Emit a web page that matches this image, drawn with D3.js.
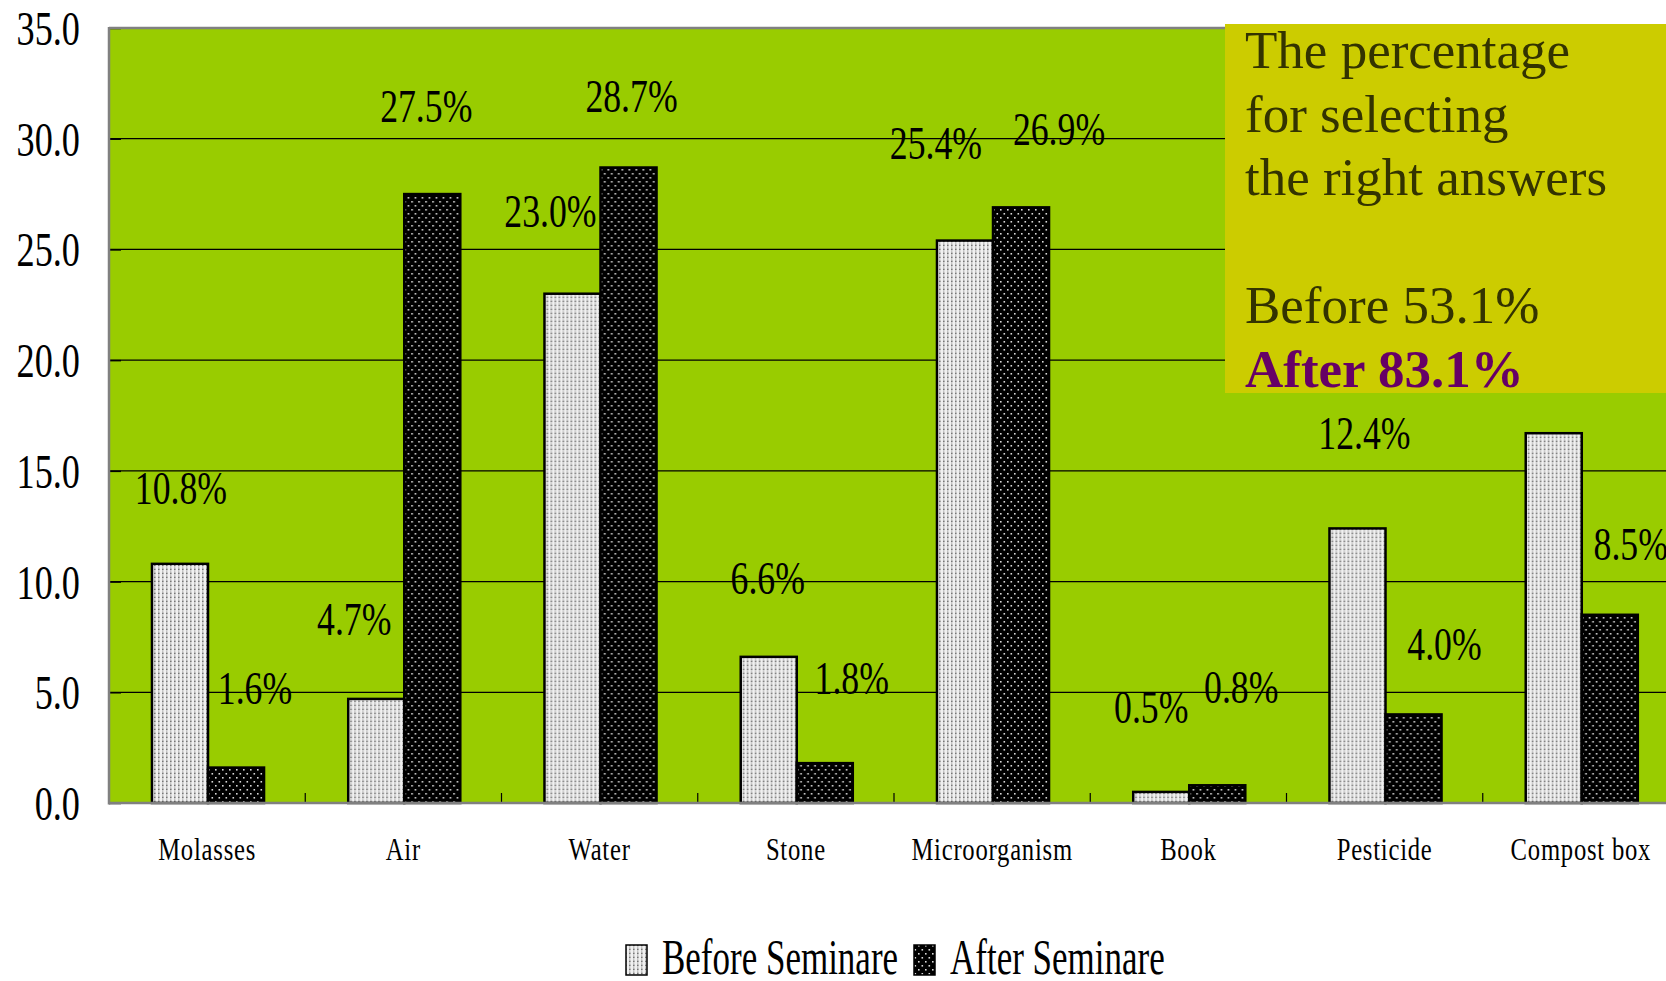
<!DOCTYPE html>
<html>
<head>
<meta charset="utf-8">
<script src="https://cdn.jsdelivr.net/npm/d3@7"></script>
<style>
  html, body { margin: 0; padding: 0; background: #ffffff; }
  svg { display: block; }
  text { font-family: "Liberation Serif", "Times New Roman", serif; }
</style>
</head>
<body>
<svg id="chart" width="1666" height="981"></svg>
<script>
// Survey results: share of respondents choosing each item, before and after the seminar
const categories = ["Molasses", "Air", "Water", "Stone", "Microorganism", "Book", "Pesticide", "Compost box"];
const beforeValues = [10.8, 4.7, 23.0, 6.6, 25.4, 0.5, 12.4, 16.7];
const afterValues  = [1.6, 27.5, 28.7, 1.8, 26.9, 0.8, 4.0, 8.5];
const seriesNames = ["Before Seminare", "After Seminare"];
const yTicks = [0, 5, 10, 15, 20, 25, 30, 35];
const noteLines = ["The percentage", "for selecting", "the right answers", "", "Before 53.1%"];
const noteHighlight = "After 83.1%";

// hand-placed value-label nudges (px relative to the bar's top centre)
const labelShiftX = [[1, -22, -22, -1, -29, -10, 7, -11], [19, -6, 3, 27, 38, 24, 31, 21]];
const labelRaise  = [[60, 64, 67, 63, 82, 69, 79, 70], [64, 72, 56, 69, 62, 82, 54, 55]];

const svg = d3.select("#chart");
const W = 1666, H = 981;

const plot = { left: 109, top: 28, bottom: 803, right: 1679 };
const noteBox = { x: 1225, y: 24, w: W - 1225, h: 369 };

// patterns for the two series
const defs = svg.append("defs");
const pBefore = defs.append("pattern")
  .attr("id", "pat-before").attr("patternUnits", "userSpaceOnUse")
  .attr("width", 4).attr("height", 4);
pBefore.append("rect").attr("width", 4).attr("height", 4).attr("fill", "#f0f0f0");
pBefore.append("rect").attr("x", 1).attr("y", 0.5).attr("width", 1.6).attr("height", 1.6).attr("fill", "#767676");
pBefore.append("rect").attr("x", 1).attr("y", 2.5).attr("width", 1.4).attr("height", 1.2).attr("fill", "#b0b0b0");

const pAfter = defs.append("pattern")
  .attr("id", "pat-after").attr("patternUnits", "userSpaceOnUse")
  .attr("width", 7).attr("height", 8);
pAfter.append("rect").attr("width", 7).attr("height", 8).attr("fill", "#000000");
pAfter.append("rect").attr("x", 1).attr("y", 1).attr("width", 1.6).attr("height", 1.6).attr("fill", "#d8d8d8");
pAfter.append("rect").attr("x", 4.5).attr("y", 5).attr("width", 1.6).attr("height", 1.6).attr("fill", "#d8d8d8");

const fills = ["url(#pat-before)", "url(#pat-after)"];

// scales
const x = d3.scaleBand().domain(categories).range([plot.left, plot.right]).padding(0);
const bw = x.bandwidth();
const xSub = d3.scaleBand().domain([0, 1])
  .range([bw * 0.219, bw * 0.790]).padding(0);
const y = d3.scaleLinear().domain([0, 35]).range([plot.bottom, plot.top]);

// plot area background
svg.append("rect")
  .attr("x", plot.left).attr("y", plot.top)
  .attr("width", W - plot.left).attr("height", plot.bottom - plot.top)
  .attr("fill", "#99cc00");

// gridlines
svg.append("g")
  .selectAll("line")
  .data(yTicks.filter(t => t > 0 && t < 35))
  .join("line")
  .attr("x1", plot.left).attr("x2", W)
  .attr("y1", d => y(d)).attr("y2", d => y(d))
  .attr("stroke", "#000").attr("stroke-width", 1.2);

// y axis (ticks pointing inward), labels drawn separately
const yAxis = d3.axisRight(y).tickValues(yTicks).tickSize(12).tickFormat("");
const gy = svg.append("g").attr("transform", `translate(${plot.left},0)`).call(yAxis);
gy.select(".domain").remove();
gy.selectAll(".tick line").attr("stroke", "#000").attr("stroke-width", 1.5);

// x axis ticks at band boundaries, pointing up
const boundaries = categories.map(c => x(c)).slice(1);
svg.append("g").selectAll("line")
  .data(boundaries).join("line")
  .attr("x1", d => d).attr("x2", d => d)
  .attr("y1", plot.bottom).attr("y2", plot.bottom - 10)
  .attr("stroke", "#000").attr("stroke-width", 1.2);

// bars
const rows = categories.map((c, i) => ({ cat: c, i, vals: [beforeValues[i], afterValues[i]] }));
const groups = svg.append("g").selectAll("g")
  .data(rows).join("g")
  .attr("transform", d => `translate(${x(d.cat)},0)`);

groups.selectAll("rect")
  .data(d => d.vals.map((v, k) => ({ v, k })))
  .join("rect")
  .attr("x", d => xSub(d.k))
  .attr("width", xSub.bandwidth())
  .attr("y", d => y(d.v))
  .attr("height", d => y(0) - y(d.v))
  .attr("fill", d => fills[d.k])
  .attr("stroke", "#000").attr("stroke-width", 2.5);

// value labels; any label that would sit under the note box is left out
const labelData = [];
rows.forEach(r => r.vals.forEach((v, k) => {
  const cx = x(r.cat) + xSub(k) + xSub.bandwidth() / 2 + labelShiftX[k][r.i];
  const by = y(v) - labelRaise[k][r.i];
  const hidden = cx > noteBox.x && by < noteBox.y + noteBox.h + 20;
  if (!hidden) labelData.push({ v, cx, by });
}));
svg.append("g").selectAll("text")
  .data(labelData).join("text")
  .attr("transform", d => `translate(${d.cx},${d.by}) scale(0.76,1)`)
  .attr("text-anchor", "middle")
  .attr("font-size", 47)
  .attr("fill", "#000")
  .text(d => d.v.toFixed(1) + "%");

// axis frame lines (grey)
svg.append("line")
  .attr("x1", plot.left).attr("x2", plot.left)
  .attr("y1", plot.top - 1).attr("y2", plot.bottom + 1.5)
  .attr("stroke", "#808080").attr("stroke-width", 2.5);
svg.append("line")
  .attr("x1", plot.left).attr("x2", W)
  .attr("y1", plot.top).attr("y2", plot.top)
  .attr("stroke", "#808080").attr("stroke-width", 2.5);
svg.append("line")
  .attr("x1", plot.left).attr("x2", W)
  .attr("y1", plot.bottom).attr("y2", plot.bottom)
  .attr("stroke", "#808080").attr("stroke-width", 2.5);

// y tick labels
svg.append("g").selectAll("text")
  .data(yTicks).join("text")
  .attr("transform", d => `translate(80,${y(d) + 17}) scale(0.74,1)`)
  .attr("text-anchor", "end")
  .attr("font-size", 49)
  .attr("fill", "#000")
  .text(d => d.toFixed(1));

// category labels
svg.append("g").selectAll("text")
  .data(categories).join("text")
  .attr("transform", d => `translate(${x(d) + bw / 2},860) scale(0.77,1)`)
  .attr("text-anchor", "middle")
  .attr("font-size", 32)
  .attr("letter-spacing", 1)
  .attr("fill", "#000")
  .text(d => d);

// note box
const note = svg.append("g");
note.append("rect")
  .attr("x", noteBox.x).attr("y", noteBox.y).attr("width", noteBox.w).attr("height", noteBox.h)
  .attr("fill", "#cccc00");
const noteBase = [68, 132, 195, 259, 323];
note.selectAll("text.line")
  .data(noteLines).join("text")
  .attr("class", "line")
  .attr("x", 1245).attr("y", (d, i) => noteBase[i])
  .attr("font-size", 53)
  .attr("fill", "#333300")
  .text(d => d);
note.append("text")
  .attr("x", 1245).attr("y", 387)
  .attr("font-size", 53).attr("font-weight", "bold")
  .attr("fill", "#660066")
  .text(noteHighlight);

// legend
const legendX = [626, 914];
const legend = svg.append("g").selectAll("g")
  .data(seriesNames).join("g");
legend.append("rect")
  .attr("x", (d, i) => legendX[i]).attr("y", 945)
  .attr("width", 21).attr("height", 30)
  .attr("fill", (d, i) => fills[i])
  .attr("stroke", "#000").attr("stroke-width", 1.5);
legend.append("text")
  .attr("transform", (d, i) => `translate(${legendX[i] + 36},974) scale(0.70,1)`)
  .attr("font-size", 50)
  .attr("fill", "#000")
  .text(d => d);
</script>
</body>
</html>
